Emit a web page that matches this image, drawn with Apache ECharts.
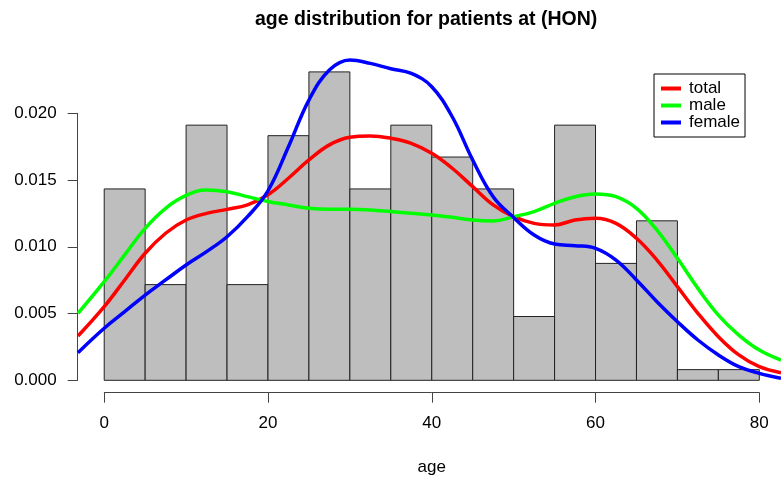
<!DOCTYPE html>
<html>
<head>
<meta charset="utf-8">
<script src="https://cdn.jsdelivr.net/npm/echarts@6/dist/echarts.min.js"></script>
<style>
  html, body { margin: 0; padding: 0; background: #fff; }
  #chart { width: 781px; height: 480px; }
</style>
</head>
<body>
<div id="chart"></div>
<script>
// histogram bins (age, width 5) and their densities
var binStarts = [0, 5, 10, 15, 20, 25, 30, 35, 40, 45, 50, 55, 60, 65, 70, 75]
var binWidth = 5
var histDensity = [0.01434, 0.00717, 0.01912, 0.00717, 0.01833, 0.02311, 0.01434, 0.01912,
  0.01673, 0.01434, 0.00478, 0.01912, 0.00876, 0.01195, 0.00080, 0.00080]

// kernel density curves, read at these ages
var ages = [-3.2, 0, 2.5, 5, 7.5, 10, 12.5, 15, 17.5, 20, 22.5, 25, 27.5, 30, 32.5, 35, 37.5,
  40, 42.5, 45, 47.5, 50, 52.5, 55, 57.5, 60, 62.5, 65, 67.5, 70, 72.5, 75, 77.5, 80, 82.65]
var totalDens = [0.00332, 0.00552, 0.00752, 0.00952, 0.01102, 0.01201, 0.01251, 0.01281, 0.01314,
  0.01390, 0.01514, 0.01651, 0.01764, 0.01821, 0.01831, 0.01814, 0.01776, 0.01701, 0.01589,
  0.01451, 0.01314, 0.01226, 0.01176, 0.01164, 0.01201, 0.01214, 0.01176, 0.01064, 0.00901,
  0.00702, 0.00502, 0.00327, 0.00190, 0.00102, 0.00057]
var maleDens = [0.00502, 0.00739, 0.00940, 0.01139, 0.01289, 0.01385, 0.01426, 0.01413, 0.01376,
  0.01340, 0.01314, 0.01289, 0.01281, 0.01281, 0.01276, 0.01264, 0.01251, 0.01239, 0.01221,
  0.01201, 0.01194, 0.01226, 0.01264, 0.01326, 0.01376, 0.01396, 0.01376, 0.01289, 0.01126,
  0.00914, 0.00689, 0.00489, 0.00339, 0.00227, 0.00152]
var femaleDens = [0.00207, 0.00390, 0.00514, 0.00639, 0.00752, 0.00864, 0.00964, 0.01076, 0.01226,
  0.01420, 0.01750, 0.02100, 0.02325, 0.02400, 0.02375, 0.02335, 0.02300, 0.02200, 0.01975,
  0.01651, 0.01376, 0.01220, 0.01089, 0.01021, 0.01009, 0.00989, 0.00901, 0.00752, 0.00589,
  0.00439, 0.00302, 0.00190, 0.00102, 0.00052, 0.00015]

var xTicks = [0, 20, 40, 60, 80]
var yTicks = [0, 0.005, 0.01, 0.015, 0.02]

var font = 'Liberation Sans, Arial, sans-serif'

function pairs(xs, ys) {
  return xs.map(function (x, i) { return [x, ys[i]] })
}

var chart = echarts.init(document.getElementById('chart'), null, { renderer: 'canvas' })

chart.setOption({
  animation: false,
  textStyle: { fontFamily: font },
  title: {
    text: 'age distribution for patients at (HON)',
    left: 255,
    top: 10,
    padding: 0,
    textStyle: { fontSize: 19.5, fontWeight: 'bold', color: '#000', fontFamily: font }
  },
  legend: {
    orient: 'vertical',
    left: 654,
    top: 74,
    padding: [6, 5, 6, 7],
    borderColor: '#000',
    borderWidth: 1,
    itemWidth: 20,
    itemHeight: 4,
    itemGap: 0,
    icon: 'rect',
    textStyle: { fontSize: 17, lineHeight: 17, color: '#000', padding: [0, 0, 0, 3] },
    data: ['total', 'male', 'female']
  },
  grid: [
    // plot region
    { left: 78, right: 0, top: 57, bottom: 87.3 },
    // x axis strip (0..80)
    { left: 104.3, width: 655, top: 391.7, height: 1 },
    // y axis strip (0..0.02)
    { left: 77.7, width: 1, top: 113.3, height: 267 }
  ],
  xAxis: [
    { gridIndex: 0, type: 'value', min: -3.2, max: 82.65, show: false },
    {
      gridIndex: 1, type: 'value', min: xTicks[0], max: xTicks[xTicks.length - 1], interval: 20,
      position: 'bottom',
      axisLine: { show: true, lineStyle: { color: '#444', width: 1 } },
      axisTick: { show: true, length: 10, lineStyle: { color: '#444' } },
      axisLabel: { fontSize: 17, color: '#000', margin: 22 },
      splitLine: { show: false },
      name: 'age', nameLocation: 'middle', nameGap: 66,
      nameTextStyle: { fontSize: 17, color: '#000' }
    },
    { gridIndex: 2, type: 'value', show: false }
  ],
  yAxis: [
    { gridIndex: 0, type: 'value', min: -0.000929, max: 0.024226, show: false },
    { gridIndex: 1, type: 'value', show: false },
    {
      gridIndex: 2, type: 'value', min: yTicks[0], max: yTicks[yTicks.length - 1], interval: 0.005,
      position: 'left',
      axisLine: { show: true, lineStyle: { color: '#444', width: 1 } },
      axisTick: { show: true, length: 10, lineStyle: { color: '#444' } },
      axisLabel: {
        fontSize: 17, color: '#000', margin: 21,
        formatter: function (v) { return v.toFixed(3) }
      },
      splitLine: { show: false }
    }
  ],
  series: [
    {
      type: 'custom',
      xAxisIndex: 0,
      yAxisIndex: 0,
      data: binStarts.map(function (b, i) { return [b, b + binWidth, histDensity[i]] }),
      renderItem: function (params, api) {
        var p0 = api.coord([api.value(0), api.value(2)])
        var p1 = api.coord([api.value(1), 0])
        return {
          type: 'rect',
          shape: { x: p0[0], y: p0[1], width: p1[0] - p0[0], height: p1[1] - p0[1] },
          style: { fill: '#bebebe', stroke: '#222', lineWidth: 1 }
        }
      },
      silent: true
    },
    {
      name: 'total', type: 'line', xAxisIndex: 0, yAxisIndex: 0,
      data: pairs(ages, totalDens), smooth: 0.4, showSymbol: false,
      color: '#ff0000', lineStyle: { width: 3.5, color: '#ff0000' }
    },
    {
      name: 'male', type: 'line', xAxisIndex: 0, yAxisIndex: 0,
      data: pairs(ages, maleDens), smooth: 0.4, showSymbol: false,
      color: '#00ff00', lineStyle: { width: 3.5, color: '#00ff00' }
    },
    {
      name: 'female', type: 'line', xAxisIndex: 0, yAxisIndex: 0,
      data: pairs(ages, femaleDens), smooth: 0.4, showSymbol: false,
      color: '#0000ff', lineStyle: { width: 3.5, color: '#0000ff' }
    }
  ]
})
</script>
</body>
</html>
